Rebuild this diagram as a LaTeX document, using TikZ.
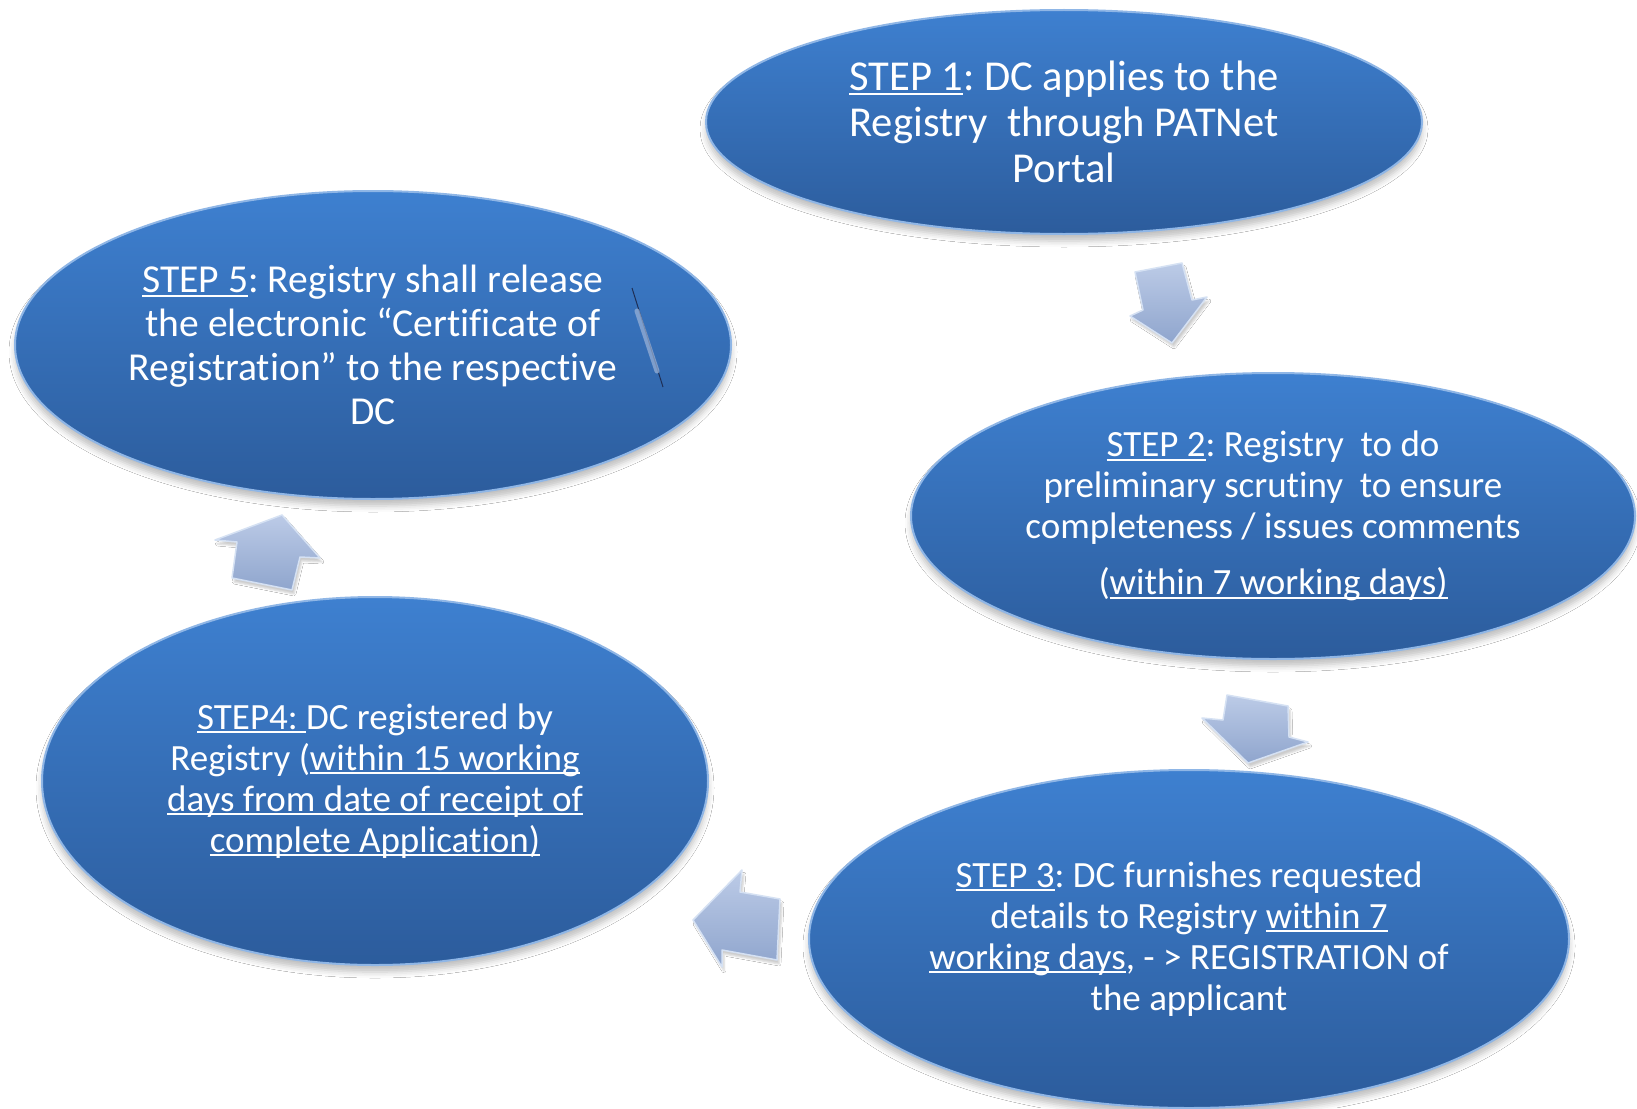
\documentclass[tikz,border=0pt]{standalone}
\usepackage{fontspec}
\setmainfont{Carlito}[RawFeature={-liga;-clig;-dlig;-hlig;-calt;-rlig}]
\usetikzlibrary{shapes.geometric,shadows.blur}
\definecolor{ovtop}{HTML}{3E80D0}
\definecolor{ovbot}{HTML}{2C5C9C}
\definecolor{ovrim}{HTML}{8FB6E6}
\definecolor{artop}{HTML}{BCCBE7}
\definecolor{arbot}{HTML}{8FA5CD}
\definecolor{aredge}{HTML}{D5E1F3}
\definecolor{penline}{HTML}{1E2E55}
\definecolor{pentube}{HTML}{9DB4D8}
\newcommand{\uln}[1]{\setbox0\hbox{#1}\rlap{\rule[-0.11em]{\wd0}{0.055em}}\box0}
\frenchspacing
\begin{document}
\begin{tikzpicture}[x=1pt,y=-1pt,
  stepoval/.style={ellipse, inner sep=0pt, align=center, text=white,
    top color=ovtop, bottom color=ovbot, draw=ovrim, line width=2pt,
    blur shadow={shadow xshift=0pt, shadow yshift=-7pt, shadow opacity=25, shadow blur radius=6pt}},
  blockarrow/.style={top color=artop, bottom color=arbot, draw=aredge,
    line width=1.5pt, line join=round,
    blur shadow={shadow xshift=2pt, shadow yshift=-4pt, shadow opacity=20}}]
\fill[white] (0,0) rectangle (1637,1108);
\useasboundingbox (0,0) rectangle (1637,1108);

\node[stepoval, minimum width=716pt, minimum height=224pt,
  font=\fontsize{42.6}{46}\selectfont] (s1) at (1064,122)
  {\uln{STEP 1}: DC applies to the\\ Registry\ \ through PATNet\\ Portal};

\node[stepoval, minimum width=716pt, minimum height=308pt,
  font=\fontsize{39.6}{44}\selectfont] (s5) at (373,345)
  {\uln{STEP 5}: Registry shall release\\ the electronic “Certif\kern0pt icate of\\ Registrat\kern0pt ion” to the respective\\ DC};

\node[stepoval, minimum width=724pt, minimum height=286pt,
  font=\fontsize{37}{41}\selectfont] (s2) at (1273,516)
  {\uln{STEP 2}: Registry\ \ to do\\ preliminary scrut\kern0pt iny\ \ to ensure\\ completeness / issues comments\\[15pt] (\uln{within 7 working days)}};

\node[stepoval, minimum width=666pt, minimum height=368pt,
  font=\fontsize{37}{41}\selectfont] (s4) at (375,781)
  {\uln{STEP4: }DC registered by\\ Registry (\uln{within 15 working}\\ \uln{days from date of receipt of}\\ \uln{complete Applicat\kern0pt ion)}};

\node[stepoval, minimum width=760pt, minimum height=338pt,
  font=\fontsize{37}{41}\selectfont] (s3) at (1189,939)
  {\uln{STEP 3}: DC furnishes requested\\ details to Registry \uln{within 7}\\ \uln{working days}, - > REGISTRATION of\\ the applicant};

% block arrows
\path[blockarrow] (1135,272) -- (1182,263) -- (1192,300) -- (1207,297) -- (1172,343) -- (1130,316) -- (1143,310) -- cycle;
\path[blockarrow] (1227,695) -- (1288,706) -- (1289,737) -- (1308,742) -- (1248,763) -- (1202,718) -- (1223,720) -- cycle;
\path[blockarrow] (742,870) -- (740,892) -- (780,899) -- (777,960) -- (722,950) -- (722,967) -- (693,920) -- cycle;
\path[blockarrow] (282,515) -- (320,558) -- (300,557) -- (292,590) -- (232,578) -- (237,542) -- (215,540) -- cycle;

% small pen stroke inside step 5
\draw[penline, line width=1pt] (632,288) -- (663,387);
\draw[pentube, line width=5pt, opacity=0.7, line cap=round] (637,311) -- (657,371);
\end{tikzpicture}
\end{document}
